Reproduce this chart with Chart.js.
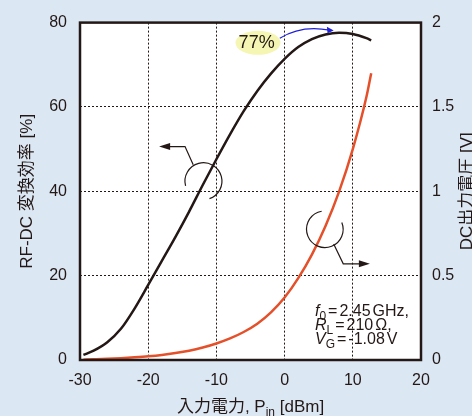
<!DOCTYPE html>
<html>
<head>
<meta charset="utf-8">
<script src="https://cdn.jsdelivr.net/npm/chart.js@4"></script>
<style>
  html, body { margin: 0; padding: 0; background: #dce7f4; }
  canvas { display: block; }
</style>
</head>
<body>
<canvas id="rfChart" width="472" height="416"></canvas>
<script>
// input power [dBm]
const pin = [-29.5, -28, -26, -24, -22, -20, -18, -16, -14, -12, -10, -8, -6, -4, -2, 0, 2, 4, 6, 8, 10, 12, 12.7];
// RF-DC conversion efficiency [%]
const efficiency = [1.2, 2.2, 4.2, 7.4, 12.2, 17.8, 23.5, 29.2, 35.2, 41.5, 47.6, 53.5, 59, 63.8, 67.9, 71.4, 74.2, 76.1, 77.2, 77.6, 77.3, 76.3, 75.8];
// DC output voltage [V]
const voltage = [0.002, 0.004, 0.007, 0.011, 0.016, 0.022, 0.03, 0.041, 0.055, 0.074, 0.098, 0.128, 0.166, 0.215, 0.282, 0.37, 0.485, 0.625, 0.795, 1.0, 1.25, 1.56, 1.7];

const xTicks = [-30, -20, -10, 0, 10, 20];
const effTicks = [0, 20, 40, 60, 80];
const voltTicks = [0, 0.5, 1, 1.5, 2];

const INK = "#231815";
const FONT = "'Liberation Sans', Arial, 'Noto Sans CJK JP', sans-serif";

// draw a line of text made of runs (italic / subscript pieces)
function drawRuns(ctx, runs, x, y, align) {
  let total = 0;
  runs.forEach((r) => {
    if (r.gap) { total += r.gap; return; }
    ctx.font = r.font;
    r.w = ctx.measureText(r.t).width;
    total += r.w;
  });
  let cx = align === "center" ? x - total / 2 : x;
  ctx.textAlign = "left";
  ctx.textBaseline = "alphabetic";
  runs.forEach((r) => {
    if (r.gap) { cx += r.gap; return; }
    ctx.font = r.font;
    ctx.fillText(r.t, cx, y + (r.dy || 0));
    cx += r.w;
  });
}

function arrowHead(ctx, tipX, tipY, dir) {
  ctx.beginPath();
  ctx.moveTo(tipX, tipY);
  ctx.lineTo(tipX - dir * 11, tipY - 3.5);
  ctx.lineTo(tipX - dir * 11, tipY + 3.5);
  ctx.closePath();
  ctx.fill();
}

const overlay = {
  id: "overlay",
  beforeDraw(chart) {
    const { ctx, chartArea: a } = chart;
    ctx.save();
    ctx.fillStyle = "#ffffff";
    ctx.fillRect(a.left, a.top, a.right - a.left, a.bottom - a.top);
    ctx.restore();
  },
  afterDraw(chart) {
    const { ctx, chartArea: a } = chart;
    const sx = chart.scales.x, sy = chart.scales.y;
    const px = (v) => sx.getPixelForValue(v);
    const py = (v) => sy.getPixelForValue(v);
    ctx.save();

    // frame
    ctx.strokeStyle = INK;
    ctx.lineWidth = 2.5;
    ctx.strokeRect(a.left, a.top, a.right - a.left, a.bottom - a.top);

    // circle + arrow pointing to left axis (efficiency curve)
    ctx.lineWidth = 1.2;
    ctx.fillStyle = INK;
    ctx.beginPath();
    ctx.arc(px(-11.9), py(42.4), 18.5, (165 * Math.PI) / 180, (431 * Math.PI) / 180);
    ctx.stroke();
    ctx.beginPath();
    ctx.moveTo(px(-13.4), py(46.3));
    ctx.lineTo(px(-14.6), py(50.6));
    ctx.lineTo(px(-17.6), py(50.6));
    ctx.stroke();
    arrowHead(ctx, px(-18.4), py(50.6), -1);

    // circle + arrow pointing to right axis (voltage curve)
    ctx.beginPath();
    ctx.arc(px(5.9), py(31), 18.3, (338 * Math.PI) / 180, (620 * Math.PI) / 180);
    ctx.stroke();
    ctx.beginPath();
    ctx.moveTo(px(7.2), py(27.5));
    ctx.lineTo(px(8.6), py(22.8));
    ctx.lineTo(px(11.7), py(22.8));
    ctx.stroke();
    arrowHead(ctx, px(12.5), py(22.8), 1);

    // 77% label
    ctx.fillStyle = "#f6f6b4";
    ctx.beginPath();
    ctx.ellipse(px(-3.9), py(75.2), 22.5, 12, 0, 0, Math.PI * 2);
    ctx.fill();
    ctx.fillStyle = INK;
    ctx.font = "18px " + FONT;
    ctx.textAlign = "center";
    ctx.textBaseline = "middle";
    ctx.fillText("77%", px(-4.1), py(75.2));

    // blue arrow to the peak
    ctx.strokeStyle = "#2020d8";
    ctx.fillStyle = "#2020d8";
    ctx.lineWidth = 1.2;
    ctx.beginPath();
    ctx.moveTo(px(-0.7), py(76.3));
    ctx.quadraticCurveTo(px(2.5), py(79.5), px(6.6), py(78.2));
    ctx.stroke();
    ctx.beginPath();
    ctx.moveTo(px(7.2), py(78.1));
    ctx.lineTo(px(6.2), py(79.0));
    ctx.lineTo(px(6.3), py(77.5));
    ctx.closePath();
    ctx.fill();

    // conditions
    ctx.fillStyle = INK;
    const n = "16px " + FONT, it = "italic 16px " + FONT, sub = "12px " + FONT;
    const tx = a.left + 235;
    drawRuns(ctx, [{ t: "f", font: it }, { t: "0", font: sub, dy: 4 }, { gap: 2 }, { t: "=", font: n }, { gap: 2 },
      { t: "2.45", font: n }, { gap: 2 }, { t: "GHz,", font: n }], tx, a.bottom - 44, "left");
    drawRuns(ctx, [{ t: "R", font: it }, { t: "L", font: sub, dy: 4 }, { gap: 2 }, { t: "=", font: n }, { gap: 2 },
      { t: "210", font: n }, { gap: 2 }, { t: "Ω,", font: n }], tx, a.bottom - 30, "left");
    drawRuns(ctx, [{ t: "V", font: it }, { t: "G", font: sub, dy: 4 }, { gap: 2 }, { t: "=", font: n }, { gap: 2 },
      { t: "-1.08", font: n }, { gap: 2 }, { t: "V", font: n }], tx, a.bottom - 16, "left");

    // axis titles
    ctx.font = "17px " + FONT;
    ctx.textAlign = "center";
    ctx.textBaseline = "alphabetic";
    const midY = (a.top + a.bottom) / 2;
    ctx.save();
    ctx.translate(32, midY);
    ctx.rotate(-Math.PI / 2);
    ctx.fillText("RF-DC 変換効率 [%]", 0, 0);
    ctx.restore();
    ctx.save();
    ctx.translate(472, midY);
    ctx.rotate(-Math.PI / 2);
    ctx.fillText("DC出力電圧 [V]", 0, 0);
    ctx.restore();
    drawRuns(ctx, [{ t: "入力電力, P", font: "17px " + FONT }, { t: "in", font: "12px " + FONT, dy: 4 },
      { t: " [dBm]", font: "17px " + FONT }], (a.left + a.right) / 2, 412, "center");

    ctx.restore();
  },
};

const ctx = document.getElementById("rfChart").getContext("2d");
new Chart(ctx, {
  type: "line",
  data: {
    datasets: [
      {
        label: "RF-DC 変換効率",
        data: pin.map((p, i) => ({ x: p, y: efficiency[i] })),
        yAxisID: "y",
        borderColor: INK,
        borderWidth: 2.5,
        cubicInterpolationMode: "monotone",
        pointRadius: 0,
        fill: false,
      },
      {
        label: "DC出力電圧",
        data: pin.map((p, i) => ({ x: p, y: voltage[i] })),
        yAxisID: "y2",
        borderColor: "#e4502a",
        borderWidth: 2.5,
        cubicInterpolationMode: "monotone",
        pointRadius: 0,
        fill: false,
      },
    ],
  },
  options: {
    responsive: false,
    animation: false,
    layout: { padding: { top: 20, left: 0, right: 0, bottom: 0 } },
    plugins: { legend: { display: false }, tooltip: { enabled: false } },
    scales: {
      x: {
        type: "linear",
        min: xTicks[0],
        max: xTicks[xTicks.length - 1],
        afterBuildTicks: (s) => { s.ticks = xTicks.map((v) => ({ value: v })); },
        afterFit: (s) => { s.height = 56; },
        grid: { color: INK, lineWidth: 1, drawTicks: false },
        border: { display: false, dash: [2, 2] },
        ticks: { color: INK, padding: 11, font: { size: 16, family: FONT } },
      },
      y: {
        position: "left",
        min: effTicks[0],
        max: effTicks[effTicks.length - 1],
        afterBuildTicks: (s) => { s.ticks = effTicks.map((v) => ({ value: v })); },
        afterFit: (s) => { s.width = 80; },
        grid: { color: INK, lineWidth: 1, drawTicks: false },
        border: { display: false, dash: [2, 2] },
        ticks: { color: INK, padding: 13, font: { size: 16, family: FONT } },
      },
      y2: {
        position: "right",
        min: voltTicks[0],
        max: voltTicks[voltTicks.length - 1],
        afterBuildTicks: (s) => { s.ticks = voltTicks.map((v) => ({ value: v })); },
        afterFit: (s) => { s.width = 51; },
        grid: { drawOnChartArea: false, drawTicks: false },
        border: { display: false },
        ticks: { color: INK, padding: 11, font: { size: 16, family: FONT }, callback: (v) => String(v) },
      },
    },
  },
  plugins: [overlay],
});
</script>
</body>
</html>
